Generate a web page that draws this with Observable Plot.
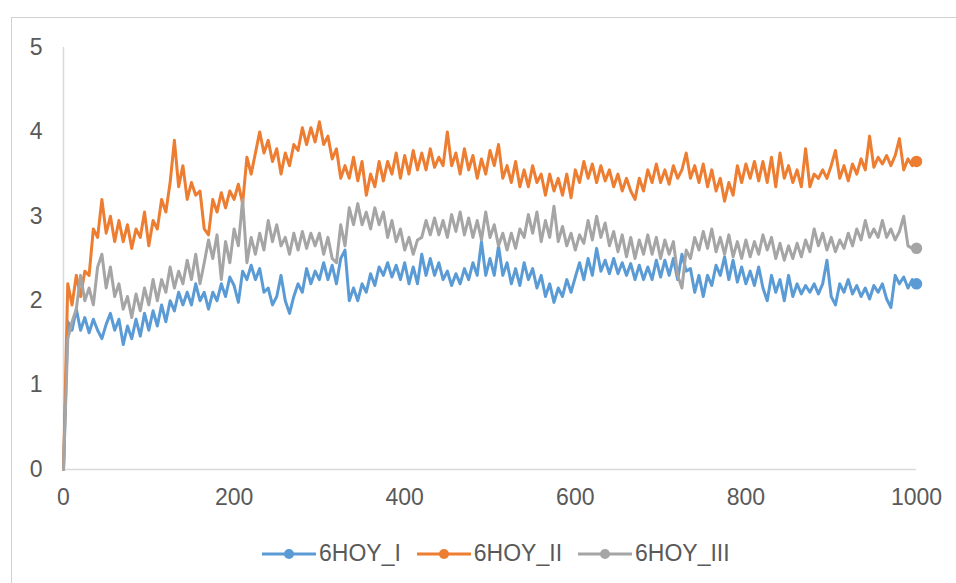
<!DOCTYPE html>
<html><head><meta charset="utf-8">
<script src="https://cdn.jsdelivr.net/npm/d3@7"></script>
<script src="https://cdn.jsdelivr.net/npm/@observablehq/plot@0.6"></script>
<style>
html,body{margin:0;padding:0;background:#fff;overflow:hidden;width:956px;height:583px}
#frame{position:absolute;left:11px;top:17px;width:1000px;height:700px;border:1px solid #d0d0d0;box-sizing:border-box}
#chart{position:absolute;left:0;top:0}
#legend{position:absolute;left:262px;top:540px;display:flex;align-items:center;font-family:"Liberation Sans",Arial,sans-serif;font-size:23px;color:#595959;white-space:nowrap}
.item{display:flex;align-items:center;margin-right:16px}
.item svg{margin-right:3px}
</style>
</head>
<body>
<div id="frame"></div>
<div id="chart"></div>
<div id="legend"></div>
<script>
const seriesNames = ["6HOY_I", "6HOY_II", "6HOY_III"];
const seriesColors = ["#5B9BD5", "#ED7D31", "#A5A5A5"];
const xStep = 5;
const xTicks = [0, 200, 400, 600, 800, 1000];
const yTicks = [0, 1, 2, 3, 4, 5];

const hoyI = [
 0, 1.75, 1.65, 1.9, 1.65, 1.8, 1.62, 1.78, 1.65, 1.55, 1.72, 1.85, 1.65, 1.78, 1.48, 1.7, 1.55, 1.78, 1.58, 1.85,
 1.65, 1.88, 1.7, 1.95, 1.75, 2.0, 1.88, 2.1, 1.95, 2.1, 1.95, 2.2, 2.0, 2.1, 1.9, 2.1, 2.0, 2.2, 2.05, 2.28,
 2.18, 1.98, 2.35, 2.25, 2.42, 2.25, 2.38, 2.1, 2.15, 1.95, 2.05, 2.3, 2.0, 1.85, 2.05, 2.2, 2.1, 2.38, 2.2, 2.35,
 2.25, 2.45, 2.25, 2.42, 2.2, 2.5, 2.6, 2.0, 2.15, 2.0, 2.2, 2.1, 2.32, 2.18, 2.4, 2.3, 2.45, 2.28, 2.42, 2.25,
 2.45, 2.2, 2.4, 2.2, 2.55, 2.3, 2.5, 2.3, 2.45, 2.25, 2.35, 2.18, 2.32, 2.2, 2.38, 2.25, 2.45, 2.3, 2.7, 2.3,
 2.5, 2.3, 2.65, 2.3, 2.45, 2.2, 2.38, 2.18, 2.45, 2.25, 2.38, 2.15, 2.3, 2.05, 2.2, 1.98, 2.15, 2.05, 2.25, 2.1,
 2.28, 2.45, 2.25, 2.5, 2.3, 2.62, 2.35, 2.48, 2.32, 2.5, 2.32, 2.45, 2.3, 2.44, 2.25, 2.42, 2.25, 2.4, 2.25, 2.48,
 2.28, 2.48, 2.3, 2.5, 2.25, 2.55, 2.35, 2.38, 2.1, 2.3, 2.05, 2.3, 2.18, 2.42, 2.3, 2.52, 2.25, 2.48, 2.22, 2.4,
 2.2, 2.35, 2.18, 2.4, 2.15, 2.0, 2.3, 2.1, 2.25, 2.0, 2.3, 2.05, 2.2, 2.08, 2.18, 2.1, 2.2, 2.08, 2.2, 2.48,
 2.05, 1.95, 2.2, 2.1, 2.25, 2.08, 2.18, 2.05, 2.15, 2.02, 2.18, 2.1, 2.2, 2.02, 1.92, 2.3, 2.2, 2.28, 2.15, 2.25,
 2.2
];
const hoyII = [
 0, 2.2, 1.95, 2.3, 2.05, 2.35, 2.3, 2.85, 2.75, 3.2, 2.8, 3.0, 2.7, 2.95, 2.7, 2.9, 2.62, 2.85, 2.75, 3.05,
 2.65, 2.95, 2.85, 3.2, 3.05, 3.4, 3.9, 3.35, 3.6, 3.2, 3.4, 3.25, 3.3, 2.85, 2.78, 3.2, 3.05, 3.28, 3.1, 3.3,
 3.2, 3.38, 3.15, 3.7, 3.5, 3.75, 4.0, 3.75, 3.9, 3.65, 3.8, 3.5, 3.75, 3.6, 3.85, 3.78, 4.05, 3.85, 4.05, 3.88,
 4.12, 3.85, 3.95, 3.68, 3.8, 3.45, 3.6, 3.45, 3.7, 3.42, 3.65, 3.25, 3.5, 3.35, 3.65, 3.42, 3.65, 3.5, 3.75, 3.45,
 3.72, 3.5, 3.78, 3.55, 3.75, 3.55, 3.8, 3.58, 3.7, 3.6, 4.0, 3.6, 3.75, 3.5, 3.8, 3.55, 3.72, 3.45, 3.68, 3.5,
 3.78, 3.6, 3.85, 3.45, 3.6, 3.4, 3.65, 3.35, 3.55, 3.35, 3.6, 3.4, 3.5, 3.25, 3.5, 3.3, 3.45, 3.25, 3.5, 3.22,
 3.55, 3.4, 3.65, 3.45, 3.62, 3.4, 3.6, 3.42, 3.55, 3.35, 3.5, 3.3, 3.45, 3.3, 3.2, 3.45, 3.3, 3.55, 3.4, 3.62,
 3.4, 3.55, 3.38, 3.6, 3.45, 3.55, 3.75, 3.45, 3.6, 3.4, 3.62, 3.35, 3.55, 3.3, 3.45, 3.18, 3.4, 3.25, 3.6, 3.4,
 3.62, 3.45, 3.65, 3.42, 3.65, 3.4, 3.7, 3.35, 3.75, 3.45, 3.6, 3.4, 3.55, 3.35, 3.8, 3.35, 3.5, 3.45, 3.55, 3.45,
 3.6, 3.78, 3.45, 3.6, 3.42, 3.62, 3.5, 3.68, 3.55, 3.95, 3.58, 3.7, 3.62, 3.72, 3.6, 3.72, 3.92, 3.55, 3.68, 3.6,
 3.65
];
const hoyIII = [
 0, 1.55, 1.75, 1.9, 2.3, 2.0, 2.15, 1.95, 2.4, 2.55, 2.15, 2.4, 2.05, 2.2, 1.9, 2.05, 1.8, 2.08, 1.88, 2.15,
 1.95, 2.25, 2.0, 2.25, 2.1, 2.4, 2.15, 2.35, 2.2, 2.48, 2.25, 2.55, 2.2, 2.45, 2.72, 2.5, 2.78, 2.25, 2.7, 2.45,
 2.85, 2.65, 3.2, 2.45, 2.75, 2.55, 2.8, 2.6, 2.95, 2.7, 2.9, 2.65, 2.75, 2.55, 2.8, 2.6, 2.82, 2.62, 2.8, 2.65,
 2.8, 2.55, 2.75, 2.5, 2.45, 2.9, 2.65, 3.1, 2.9, 3.15, 2.9, 3.05, 2.85, 3.1, 2.9, 3.05, 2.75, 2.95, 2.7, 2.85,
 2.6, 2.75, 2.55, 2.72, 2.75, 2.95, 2.78, 2.98, 2.78, 2.95, 2.75, 3.02, 2.82, 3.05, 2.78, 2.98, 2.75, 2.95, 2.72, 3.05,
 2.75, 2.9, 2.65, 2.8, 2.6, 2.8, 2.62, 2.85, 2.75, 3.02, 2.8, 3.05, 2.7, 2.95, 2.75, 3.12, 2.7, 2.88, 2.65, 2.8,
 2.6, 2.78, 2.68, 2.95, 2.72, 3.0, 2.75, 2.92, 2.65, 2.82, 2.58, 2.78, 2.52, 2.75, 2.5, 2.72, 2.55, 2.78, 2.55, 2.75,
 2.5, 2.72, 2.55, 2.7, 2.3, 2.15, 2.6, 2.5, 2.75, 2.6, 2.82, 2.62, 2.85, 2.58, 2.75, 2.55, 2.78, 2.52, 2.7, 2.5,
 2.72, 2.52, 2.7, 2.55, 2.78, 2.6, 2.75, 2.5, 2.68, 2.48, 2.65, 2.5, 2.68, 2.52, 2.72, 2.58, 2.85, 2.65, 2.8, 2.6,
 2.75, 2.58, 2.72, 2.62, 2.8, 2.65, 2.85, 2.72, 2.95, 2.75, 2.85, 2.75, 2.95, 2.75, 2.85, 2.72, 2.82, 3.0, 2.65, 2.62,
 2.62
];

const seriesValues = [hoyI, hoyII, hoyIII];
const rows = seriesValues.map((vals, k) => vals.map((v, i) => ({x: i * xStep, y: v, s: seriesNames[k]})));

const marks = [
  Plot.ruleX([0], {stroke: "#d9d9d9", strokeWidth: 1.5}),
  Plot.ruleY([0], {stroke: "#d9d9d9", strokeWidth: 1.5}),
  Plot.axisY({ticks: yTicks, tickSize: 0, tickPadding: 21, label: null, tickFormat: d => String(d)}),
  Plot.axisX({ticks: xTicks, tickSize: 0, tickPadding: 19, label: null, tickFormat: d => String(d)})
];
rows.forEach((data, k) => {
  marks.push(Plot.line(data, {x: "x", y: "y", stroke: seriesColors[k], strokeWidth: 3, strokeLinejoin: "round"}));
  marks.push(Plot.dot(data.slice(-1), {x: "x", y: "y", r: 5, fill: seriesColors[k], stroke: seriesColors[k]}));
});

const chart = Plot.plot({
  width: 956, height: 520,
  marginLeft: 63, marginRight: 40, marginTop: 47, marginBottom: 51,
  x: {domain: [0, 1000]},
  y: {domain: [0, 5]},
  style: {fontFamily: "'Liberation Sans', Arial, sans-serif", fontSize: "23px", color: "#595959", background: "transparent", overflow: "visible"},
  marks
});
document.getElementById("chart").appendChild(chart);

const legend = document.getElementById("legend");
seriesNames.forEach((name, k) => {
  const item = document.createElement("div");
  item.className = "item";
  item.innerHTML = `<svg width="54" height="26"><line x1="0" y1="13" x2="54" y2="13" stroke="${seriesColors[k]}" stroke-width="3"/><circle cx="27" cy="13" r="5" fill="${seriesColors[k]}"/></svg><span>${name}</span>`;
  legend.appendChild(item);
});
</script>
</body></html>
